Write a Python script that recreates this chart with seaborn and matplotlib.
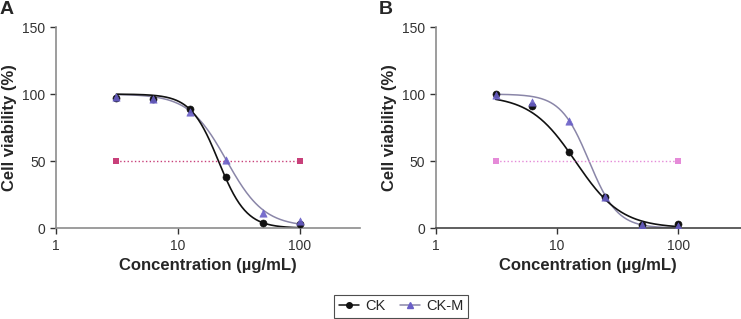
import numpy as np
import pandas as pd
import matplotlib
matplotlib.use("Agg")
import matplotlib.pyplot as plt
from matplotlib.lines import Line2D
import seaborn as sns

# concentrations (ug/mL)
conc = [3.125, 6.25, 12.5, 25, 50, 100]

# panel A measured viability (%)
ck_a = [97, 96, 89, 38.5, 4, 2.7]
ckm_a = [97.5, 96.5, 86.5, 51, 11.4, 5.2]
# panel B measured viability (%)
ck_b = [100, 91, 56.6, 23, 2, 3]
ckm_b = [99, 94, 80, 23, 2.5, 1.5]

# 4-parameter logistic fits: top, bottom, IC50, hill
fit_ck_a = (100, 0, 21.5, 3.8)
fit_ckm_a = (100, 1, 25.0, 2.8)
fit_ck_b = (99, 0, 14.3, 2.3)
fit_ckm_b = (100, 0, 18.4, 3.7)

ic50_x = [3.125, 100]
ic50_y = [50, 50]

sns.set_style("ticks")
plt.rcParams['font.family'] = ['Liberation Sans', 'DejaVu Sans']

fig = plt.figure(figsize=(7.41, 3.19), dpi=100)
ax_a = fig.add_axes([0.0756, 0.285, 0.41, 0.63])
ax_b = fig.add_axes([0.588, 0.285, 0.412, 0.63])

ck_color = "#111111"
ckm_color = "#6a5fc8"
ckm_line = "#8a86a8"


def logistic(x, p):
    top, bottom, ic50, hill = p
    return bottom + (top - bottom) / (1 + (x / ic50) ** hill)


def draw(ax, ck, ckm, fck, fckm, pink, letter, xmax):
    xs = np.logspace(np.log10(3.125), np.log10(100), 200)
    sns.lineplot(x=xs, y=logistic(xs, fckm), ax=ax, color=ckm_line, lw=1.1)
    sns.lineplot(x=xs, y=logistic(xs, fck), ax=ax, color=ck_color, lw=1.2)
    sns.lineplot(x=ic50_x, y=ic50_y, ax=ax, color=pink, lw=1.0, linestyle=":",
                 marker="s", markersize=4, markeredgewidth=0)
    sns.scatterplot(x=conc, y=ck, ax=ax, color=ck_color, marker="o", s=26,
                    edgecolor=ck_color, zorder=5)
    sns.scatterplot(x=conc, y=ckm, ax=ax, color=ckm_color, marker="^", s=28,
                    edgecolor=ckm_color, zorder=6, alpha=0.9)
    ax.set_xscale("log")
    ax.set_xlim(1, xmax)
    ax.set_ylim(0, 150)
    ax.set_xticks([1, 10, 100])
    ax.set_xticklabels(["1", "10", "100"])
    ax.minorticks_off()
    ax.set_yticks([0, 50, 100, 150])
    ax.tick_params(labelsize=10, colors="#333333", length=4, width=1)
    for s in ["left", "bottom"]:
        ax.spines[s].set_color("#8c8c8c")
        ax.spines[s].set_linewidth(1.2)
    sns.despine(ax=ax)
    ax.set_xlabel("Concentration (\u00b5g/mL)", fontsize=12, fontweight="bold", labelpad=4)
    ax.set_ylabel("Cell viability (%)", fontsize=12, fontweight="bold", labelpad=4)
    ax.text(-0.185, 1.045, letter, transform=ax.transAxes, fontsize=14,
            fontweight="bold", va="bottom", ha="left")


draw(ax_a, ck_a, ckm_a, fit_ck_a, fit_ckm_a, "#c8407a", "A", 310)
draw(ax_b, ck_b, ckm_b, fit_ck_b, fit_ckm_b, "#e58ad8", "B", 330)
ax_b.spines["bottom"].set_color("#444444")

handles = [
    Line2D([], [], color=ck_color, marker="o", markersize=4, lw=1.1),
    Line2D([], [], color=ckm_line, marker="^", markersize=4,
           markerfacecolor=ckm_color, markeredgecolor=ckm_color, lw=1.1),
]
leg = fig.legend(handles, ["CK", "CK-M"], loc="lower center", ncol=2,
                 bbox_to_anchor=(0.541, 0.0), frameon=True, fancybox=False,
                 fontsize=10.5, handlelength=1.4, columnspacing=1.0,
                 borderpad=0.3, handletextpad=0.4, borderaxespad=0.1)
leg.get_frame().set_edgecolor("#222222")
leg.get_frame().set_linewidth(0.8)

fig.savefig("out.png", dpi=100)
